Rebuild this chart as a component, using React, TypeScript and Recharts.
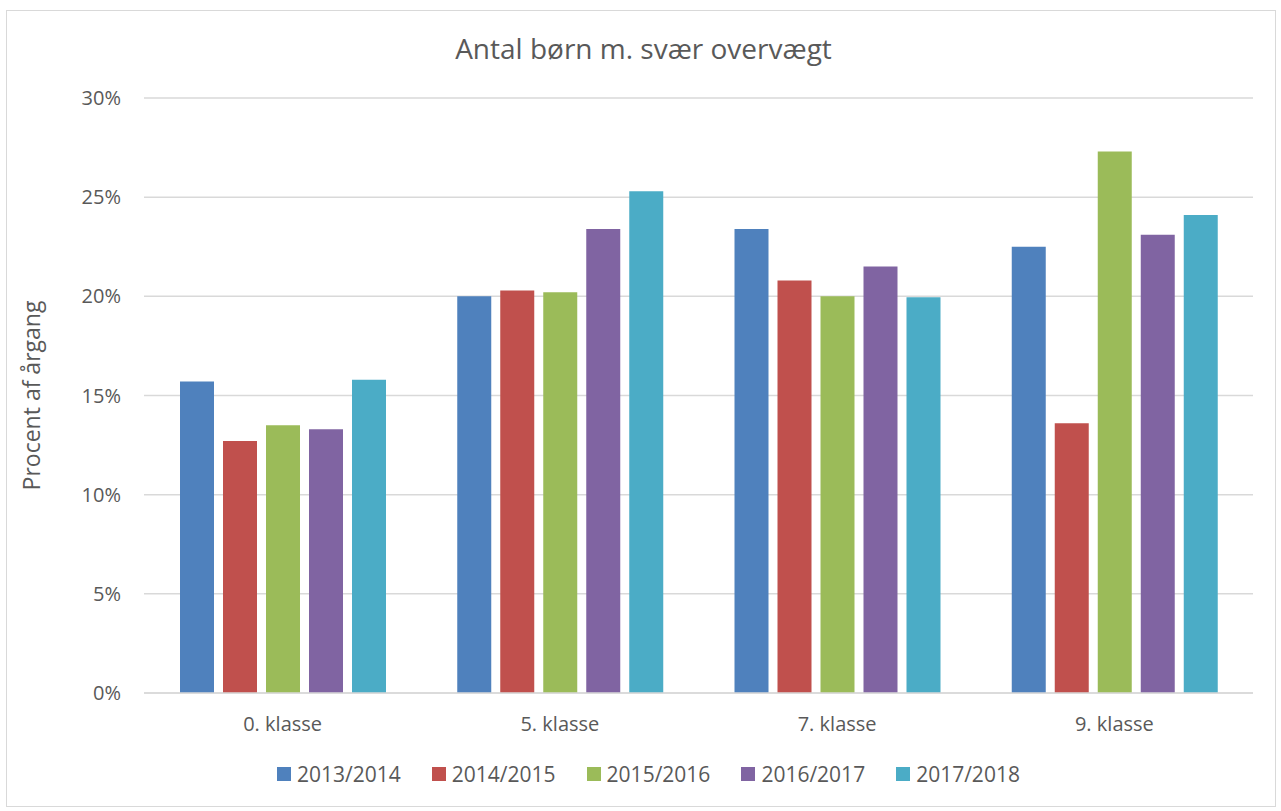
import { BarChart, Bar, XAxis, YAxis, CartesianGrid, Label } from 'recharts';

const CATEGORIES = ['0. klasse', '5. klasse', '7. klasse', '9. klasse'];
const SERIES_NAMES = ['2013/2014', '2014/2015', '2015/2016', '2016/2017', '2017/2018'];
const V_2013 = [15.7, 20.0, 23.4, 22.5];
const V_2014 = [12.7, 20.3, 20.8, 13.6];
const V_2015 = [13.5, 20.2, 20.0, 27.3];
const V_2016 = [13.3, 23.4, 21.5, 23.1];
const V_2017 = [15.8, 25.3, 19.95, 24.1];
const Y_TICKS = [0, 5, 10, 15, 20, 25, 30];

const COLORS = ['#4f81bd', '#c0504d', '#9bbb59', '#8064a2', '#4bacc6'];
const TEXT = '#595959';
const GRID = '#d9d9d9';
const FONT = '"Open Sans", sans-serif';

const SERIES = [V_2013, V_2014, V_2015, V_2016, V_2017];
const data = CATEGORIES.map((c, i) => {
  const row: Record<string, string | number> = { name: c };
  SERIES_NAMES.forEach((s, j) => { row[s] = SERIES[j][i]; });
  return row;
});

export default function App() {
  return (
    <div style={{ position: 'absolute', left: 0, top: 0, width: 1281, height: 811, background: '#fff', fontFamily: FONT }}>
      {/* frame */}
      <div style={{ position: 'absolute', left: 6, top: 10, width: 1270, height: 797, border: `1.5px solid ${GRID}`, boxSizing: 'border-box' }} />
      <div style={{ position: 'absolute', left: 0, top: 29, width: 1287, textAlign: 'center', fontSize: 28, color: TEXT }}>
        Antal børn m. svær overvægt
      </div>
      <div style={{ position: 'absolute', left: 0, top: 0 }}>
        <BarChart width={1281} height={811} data={data}
          margin={{ top: 98, right: 28, bottom: 78, left: 0 }}
          barCategoryGap={36} barGap={9}>
          <CartesianGrid vertical={false} stroke={GRID} strokeWidth={1.5} />
          <XAxis dataKey="name" height={40} tickLine={false} axisLine={{ stroke: GRID, strokeWidth: 1.5 }}
            tick={{ fill: TEXT, fontSize: 20, fontFamily: FONT }} tickMargin={18} />
          <YAxis width={144} domain={[0, 30]} ticks={Y_TICKS} tickFormatter={(v) => `${v}%`}
            axisLine={false} tickLine={false} tickMargin={17}
            tick={{ fill: TEXT, fontSize: 20, fontFamily: FONT }}>
            <Label value="Procent af årgang" angle={-90} position="insideLeft" offset={32}
              style={{ textAnchor: 'middle', fill: TEXT, fontSize: 23, fontFamily: FONT }} />
          </YAxis>
          {SERIES_NAMES.map((s, j) => (
            <Bar key={s} dataKey={s} fill={COLORS[j]} isAnimationActive={false} />
          ))}
        </BarChart>
      </div>
      <div style={{ position: 'absolute', left: 0, top: 760, width: 1297, display: 'flex', justifyContent: 'center', fontSize: 21, color: TEXT }}>
        {SERIES_NAMES.map((s, j) => (
          <div key={s} style={{ display: 'flex', alignItems: 'center', marginRight: j < SERIES_NAMES.length - 1 ? 31 : 0 }}>
            <span style={{ width: 14, height: 14, background: COLORS[j], marginRight: 6, display: 'inline-block' }} />
            <span>{s}</span>
          </div>
        ))}
      </div>
    </div>
  );
}
